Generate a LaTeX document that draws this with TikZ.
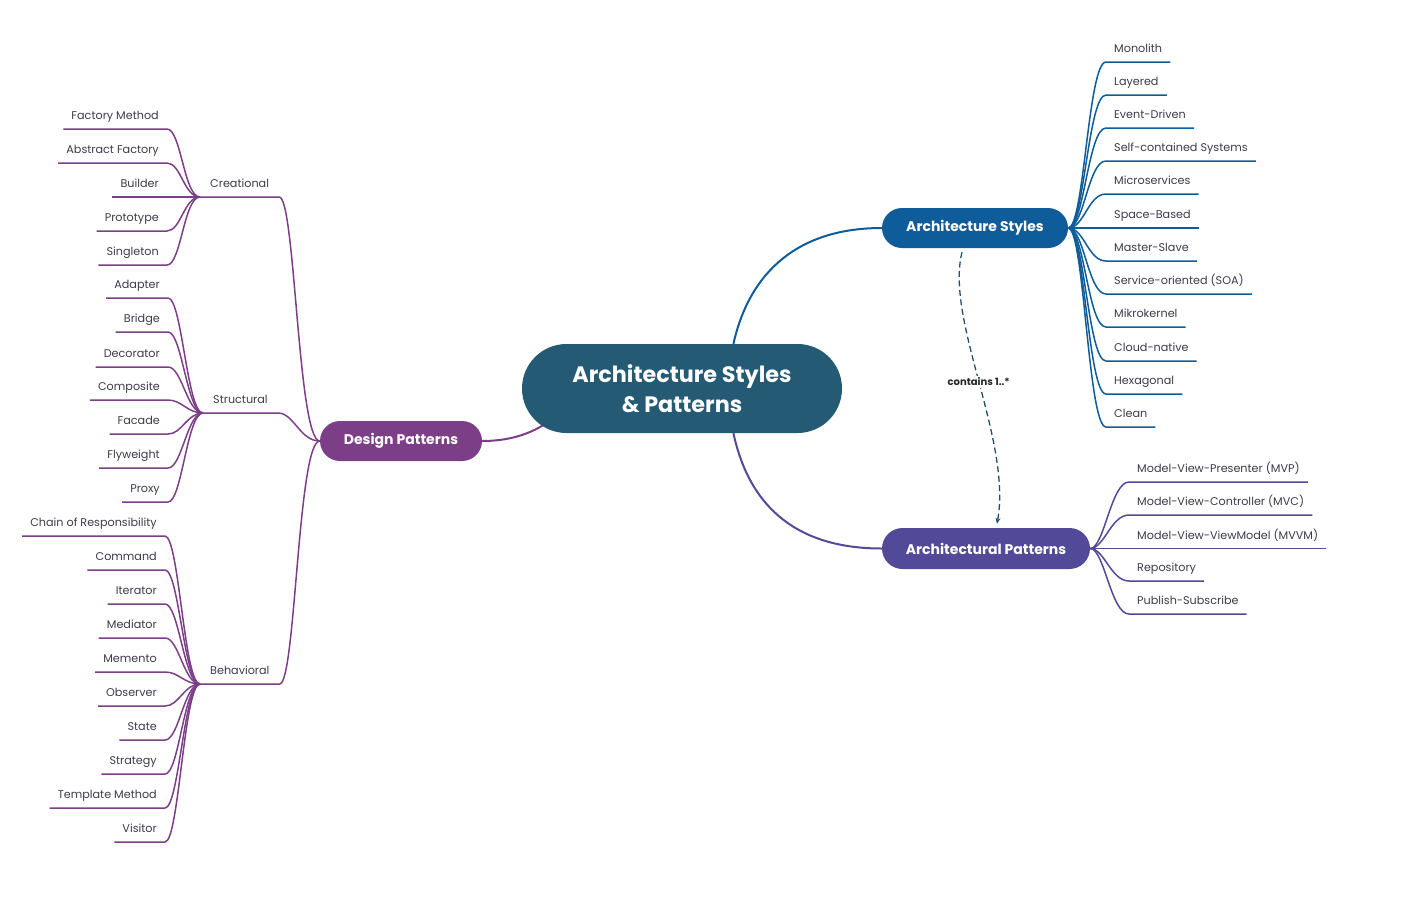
\documentclass[tikz,border=0pt]{standalone}
\usepackage{fontspec}
\setmainfont{Poppins}
\usetikzlibrary{arrows.meta,backgrounds}

\definecolor{rootblue}{HTML}{245A74}
\definecolor{styleblue}{HTML}{0F5C9A}
\definecolor{patviolet}{HTML}{524A98}
\definecolor{dpurple}{HTML}{7C3F87}
\definecolor{leafgray}{HTML}{3B3B4B}
\definecolor{dashteal}{HTML}{244F6B}

\tikzset{
  pill/.style={rounded corners=#1, text=white, inner sep=0pt,
    font=\bfseries\fontsize{14}{16}\selectfont},
  leaf/.style={inner xsep=8pt, inner ysep=6.5pt, text height=8pt, text depth=2.5pt,
    font=\fontsize{11.2}{13}\selectfont, text=leafgray},
  leafL/.style={leaf, anchor=south east},
  leafR/.style={leaf, anchor=south west},
  group/.style={leaf, anchor=south west, inner xsep=10pt},
  dpline/.style={draw=dpurple, line width=1.5pt},
  stline/.style={draw=styleblue, line width=1.5pt},
  apline/.style={draw=patviolet, line width=1.5pt},
}

\begin{document}
\begin{tikzpicture}[x=1pt, y=-1pt]
    \useasboundingbox (0,0) rectangle (1414,911);

    % Central topic and main branches
    \node[pill=44.5pt, fill=rootblue, minimum width=320pt, minimum height=89pt, align=center,
      font=\bfseries\fontsize{22.3}{30}\selectfont] (root) at (682,388.5) {Architecture Styles\\\& Patterns};
    \node[pill=20pt, fill=styleblue, minimum width=186pt, minimum height=40pt] (styles) at (975,228) {Architecture Styles};
    \node[pill=20.5pt, fill=patviolet, minimum width=208pt, minimum height=41pt] (apat) at (986,548.5) {Architectural Patterns};
    \node[pill=20pt, fill=dpurple, minimum width=162pt, minimum height=40pt] (dpat) at (401,441) {Design Patterns};

    \begin{scope}[on background layer]
        \draw[styleblue, line width=2pt] (root.41) .. controls (750,270) and (800,228) .. (styles.west);
        \draw[patviolet, line width=2pt] (root.-41) .. controls (750,510) and (800,548.5) .. (apat.west);
        \draw[dpurple, line width=2pt] ([shift={(30pt,14pt)}]root.south west) .. controls (530,436) and (505,441) .. (dpat.east);
    \end{scope}

    % Styles contain patterns
    \draw[dashteal, line width=1.3pt, dash pattern=on 6pt off 3.5pt, -{Stealth[length=6pt,width=5pt]}]
        ([xshift=-13pt,yshift=-4pt]styles.south) .. controls (945,320) and (1012,440) .. ([xshift=11pt,yshift=4pt]apat.north)
        node[pos=.5, fill=white, text=black!85, inner sep=1.5pt, font=\bfseries\fontsize{10}{12}\selectfont] (contains) {contains 1..*};

    % Architecture Styles
    \foreach \t/\y [count=\i] in {Monolith/62, Layered/95, Event-Driven/128, Self-contained Systems/161,
        Microservices/194, Space-Based/228, Master-Slave/261, Service-oriented (SOA)/294,
        Mikrokernel/327, Cloud-native/361, Hexagonal/394, Clean/427}
    {
        \node[leafR] (st\i) at (1106,\y) {\t};
        \draw[stline] (styles.east) .. controls +(16,0) and +(-18,0) .. (st\i.south west) -- (st\i.south east);
    }

    % Architectural Patterns
    \foreach \t/\y [count=\i] in {Model-View-Presenter (MVP)/482, Model-View-Controller (MVC)/515,
        Model-View-ViewModel (MVVM)/548.5, Repository/581, Publish-Subscribe/614}
    {
        \node[leafR] (ap\i) at (1129,\y) {\t};
        \draw[apline] (apat.east) .. controls +(14,0) and +(-18,0) .. (ap\i.south west) -- (ap\i.south east);
    }

    % Design Patterns
    \node[group] (cr) at (200,197) {Creational};
    \node[group] (su) at (203,413) {Structural};
    \node[group] (be) at (200,684) {Behavioral};
    \draw[dpline] (dpat.west) .. controls +(-22,0) and +(16,0) .. (cr.south east) -- (cr.south west);
    \draw[dpline] (dpat.west) .. controls +(-20,0) and +(16,0) .. (su.south east) -- (su.south west);
    \draw[dpline] (dpat.west) .. controls +(-22,0) and +(16,0) .. (be.south east) -- (be.south west);

    \foreach \t/\y [count=\i] in {Factory Method/129, Abstract Factory/163, Builder/197, Prototype/231, Singleton/265}
    {
        \node[leafL] (cr\i) at (167,\y) {\t};
        \draw[dpline] (cr\i.south west) -- (cr\i.south east) .. controls +(14,0) and +(-16,0) .. (cr.south west);
    }

    \foreach \t/\y [count=\i] in {Adapter/298, Bridge/332, Decorator/367, Composite/400, Facade/434,
        Flyweight/468, Proxy/502}
    {
        \node[leafL] (su\i) at (168,\y) {\t};
        \draw[dpline] (su\i.south west) -- (su\i.south east) .. controls +(14,0) and +(-16,0) .. (su.south west);
    }

    \foreach \t/\y [count=\i] in {Chain of Responsibility/536, Command/570, Iterator/604, Mediator/638,
        Memento/672, Observer/706, State/740, Strategy/774, Template Method/808, Visitor/842}
    {
        \node[leafL] (be\i) at (165,\y) {\t};
        \draw[dpline] (be\i.south west) -- (be\i.south east) .. controls +(14,0) and +(-16,0) .. (be.south west);
    }
\end{tikzpicture}
\end{document}
